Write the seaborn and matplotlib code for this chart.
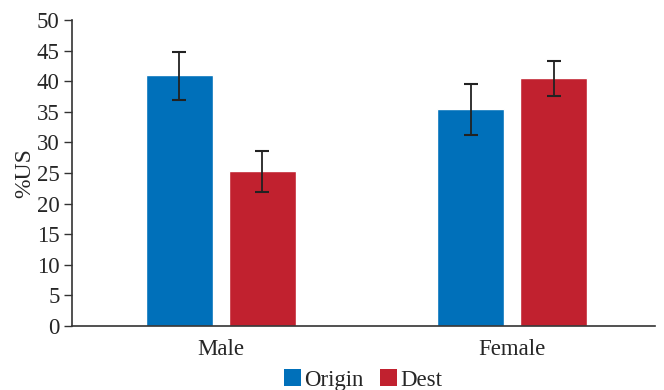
import matplotlib
matplotlib.use("Agg")
import matplotlib.pyplot as plt
import seaborn as sns
import pandas as pd
import numpy as np
from matplotlib.patches import Patch

groups = ["Male", "Female"]
series = ["Origin", "Dest"]
origin_vals = [41.0, 35.5]
dest_vals = [25.3, 40.5]
origin_lo = [37.0, 31.2]
origin_hi = [44.7, 39.6]
dest_lo = [21.9, 37.6]
dest_hi = [28.6, 43.3]
colors = ["#0070BA", "#C1212F"]

sns.set_theme(style="white")
plt.rcParams["font.family"] = ["Liberation Serif", "DejaVu Serif"]

df = pd.DataFrame({
    "group": groups * 2,
    "series": [series[0]] * 2 + [series[1]] * 2,
    "value": origin_vals + dest_vals,
    "lo": origin_lo + dest_lo,
    "hi": origin_hi + dest_hi,
})

fig = plt.figure(figsize=(6.64, 3.9), dpi=100)
ax = fig.add_axes([0.1084, 0.1641, 0.8780, 0.7846])
sns.barplot(data=df, x="group", y="value", hue="series", order=groups,
            hue_order=series, palette=colors, width=0.568, gap=0.19,
            errorbar=None, saturation=1, ax=ax, legend=False)

for container, s in zip(ax.containers, series):
    sub = df[df["series"] == s].set_index("group").loc[groups]
    xs = [p.get_x() + p.get_width() / 2 for p in container.patches]
    ys = sub["value"].values
    yerr = np.vstack([ys - sub["lo"].values, sub["hi"].values - ys])
    ax.errorbar(xs, ys, yerr=yerr, fmt="none", ecolor="#222222",
                elinewidth=1.3, capsize=5, capthick=1.5, zorder=5)

ax.set_xlim(-0.51, 1.49)
ax.set_ylim(0, 50)
ax.set_yticks(np.arange(0, 51, 5))
ax.set_xlabel("")
ax.set_ylabel("%US", fontsize=17, labelpad=1)
ax.tick_params(axis="y", which="both", left=True, direction="out", length=6,
               width=1, color="#333333", labelsize=16.5, pad=3)
ax.tick_params(axis="x", bottom=False, labelsize=16.5, pad=3)
for side in ["top", "right"]:
    ax.spines[side].set_visible(False)
for side in ["left", "bottom"]:
    ax.spines[side].set_color("#333333")
    ax.spines[side].set_linewidth(1.2)

handles = [Patch(facecolor=c, edgecolor="none", label=s) for c, s in zip(colors, series)]
fig.legend(handles=handles, loc="lower center", bbox_to_anchor=(0.547, -0.055),
           ncol=2, frameon=False, fontsize=16.5, handlelength=0.75, handleheight=0.75,
           handletextpad=0.15, columnspacing=0.7)

fig.savefig("out.png", dpi=100)
